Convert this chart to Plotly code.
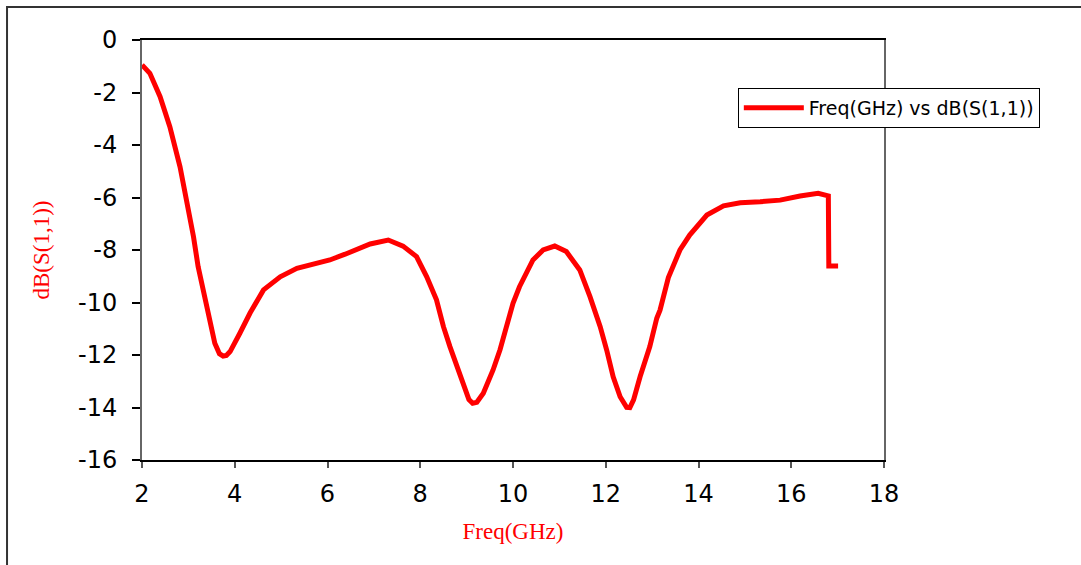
import plotly.graph_objects as go

freq_ghz = [2.00, 2.17, 2.39, 2.60, 2.82, 2.96, 3.11, 3.21, 3.32, 3.47, 3.57, 3.67, 3.75, 3.82,
            3.90, 4.11, 4.33, 4.62, 4.98, 5.34, 5.83, 6.05, 6.38, 6.92, 7.31, 7.63, 7.92, 8.14,
            8.35, 8.50, 8.64, 8.79, 8.93, 9.05, 9.13, 9.22, 9.36, 9.57, 9.72, 9.86, 10.00, 10.14,
            10.22, 10.43, 10.65, 10.90, 11.15, 11.44, 11.66, 11.88, 12.02, 12.16, 12.31, 12.45,
            12.52, 12.60, 12.74, 12.95, 13.10, 13.17, 13.35, 13.60, 13.81, 14.02, 14.18, 14.54,
            14.90, 15.33, 15.76, 16.19, 16.58, 16.80, 16.81, 17.01]
s11_db = [-0.95, -1.27, -2.16, -3.30, -4.83, -6.10, -7.49, -8.63, -9.52, -10.80, -11.55, -11.95,
          -12.04, -12.02, -11.87, -11.17, -10.40, -9.52, -9.02, -8.70, -8.48, -8.38, -8.16, -7.77,
          -7.62, -7.85, -8.25, -9.02, -9.90, -10.92, -11.68, -12.44, -13.21, -13.70, -13.84,
          -13.80, -13.46, -12.57, -11.80, -10.92, -10.03, -9.40, -9.14, -8.38, -8.00, -7.85,
          -8.06, -8.76, -9.78, -10.92, -11.81, -12.83, -13.59, -13.99, -14.00, -13.71, -12.83,
          -11.68, -10.60, -10.29, -9.05, -8.00, -7.43, -6.98, -6.67, -6.32, -6.20, -6.16, -6.10,
          -5.94, -5.84, -5.94, -8.61, -8.61]

x_ticks = [2, 4, 6, 8, 10, 12, 14, 16, 18]
y_ticks = [0, -2, -4, -6, -8, -10, -12, -14, -16]
series_name = "Freq(GHz) vs dB(S(1,1))"

fig = go.Figure()
fig.add_trace(go.Scatter(x=freq_ghz, y=s11_db, mode="lines", name=series_name,
                         line=dict(color="#ff0000", width=5)))

tick_font = dict(family="DejaVu Sans", size=24, color="black")
title_font = dict(family="Liberation Serif", size=23, color="#ff0000")

fig.update_layout(
    width=1081, height=565,
    margin=dict(l=142, r=197, t=40, b=105),
    paper_bgcolor="white", plot_bgcolor="white",
    showlegend=True,
    legend=dict(x=0.803, y=0.886, xanchor="left", yanchor="top",
                bordercolor="black", borderwidth=1, bgcolor="white", itemwidth=60,
                font=dict(family="DejaVu Sans", size=19, color="black")),
    xaxis=dict(range=[2, 18], tickvals=x_ticks, ticktext=[str(v) for v in x_ticks],
               showgrid=False, zeroline=False, showline=True, linecolor="black", linewidth=1.5,
               mirror=True, ticks="outside", ticklen=6, tickcolor="#555", tickwidth=1.5,
               tickfont=tick_font, ticklabelstandoff=5,
               title=dict(text="Freq(GHz)", font=title_font, standoff=16)),
    yaxis=dict(range=[-16, 0], tickvals=y_ticks, ticktext=[str(v) for v in y_ticks],
               showgrid=False, zeroline=False, showline=True, linecolor="#666", linewidth=2,
               mirror=True, ticks="outside", ticklen=8, tickcolor="black", tickwidth=1.5,
               tickfont=tick_font, ticklabelstandoff=10,
               title=dict(text="dB(S(1,1))", font=title_font, standoff=22)),
    shapes=[dict(type="rect", xref="paper", yref="paper",
                 x0=-0.1819, x1=1.35, y0=-0.35, y1=1.0786,
                 line=dict(color="#333", width=2), layer="below")],
)

fig.write_html("out.html", config={"displayModeBar": False},
               post_script="document.body.style.margin='0';document.body.style.overflow='hidden';")
